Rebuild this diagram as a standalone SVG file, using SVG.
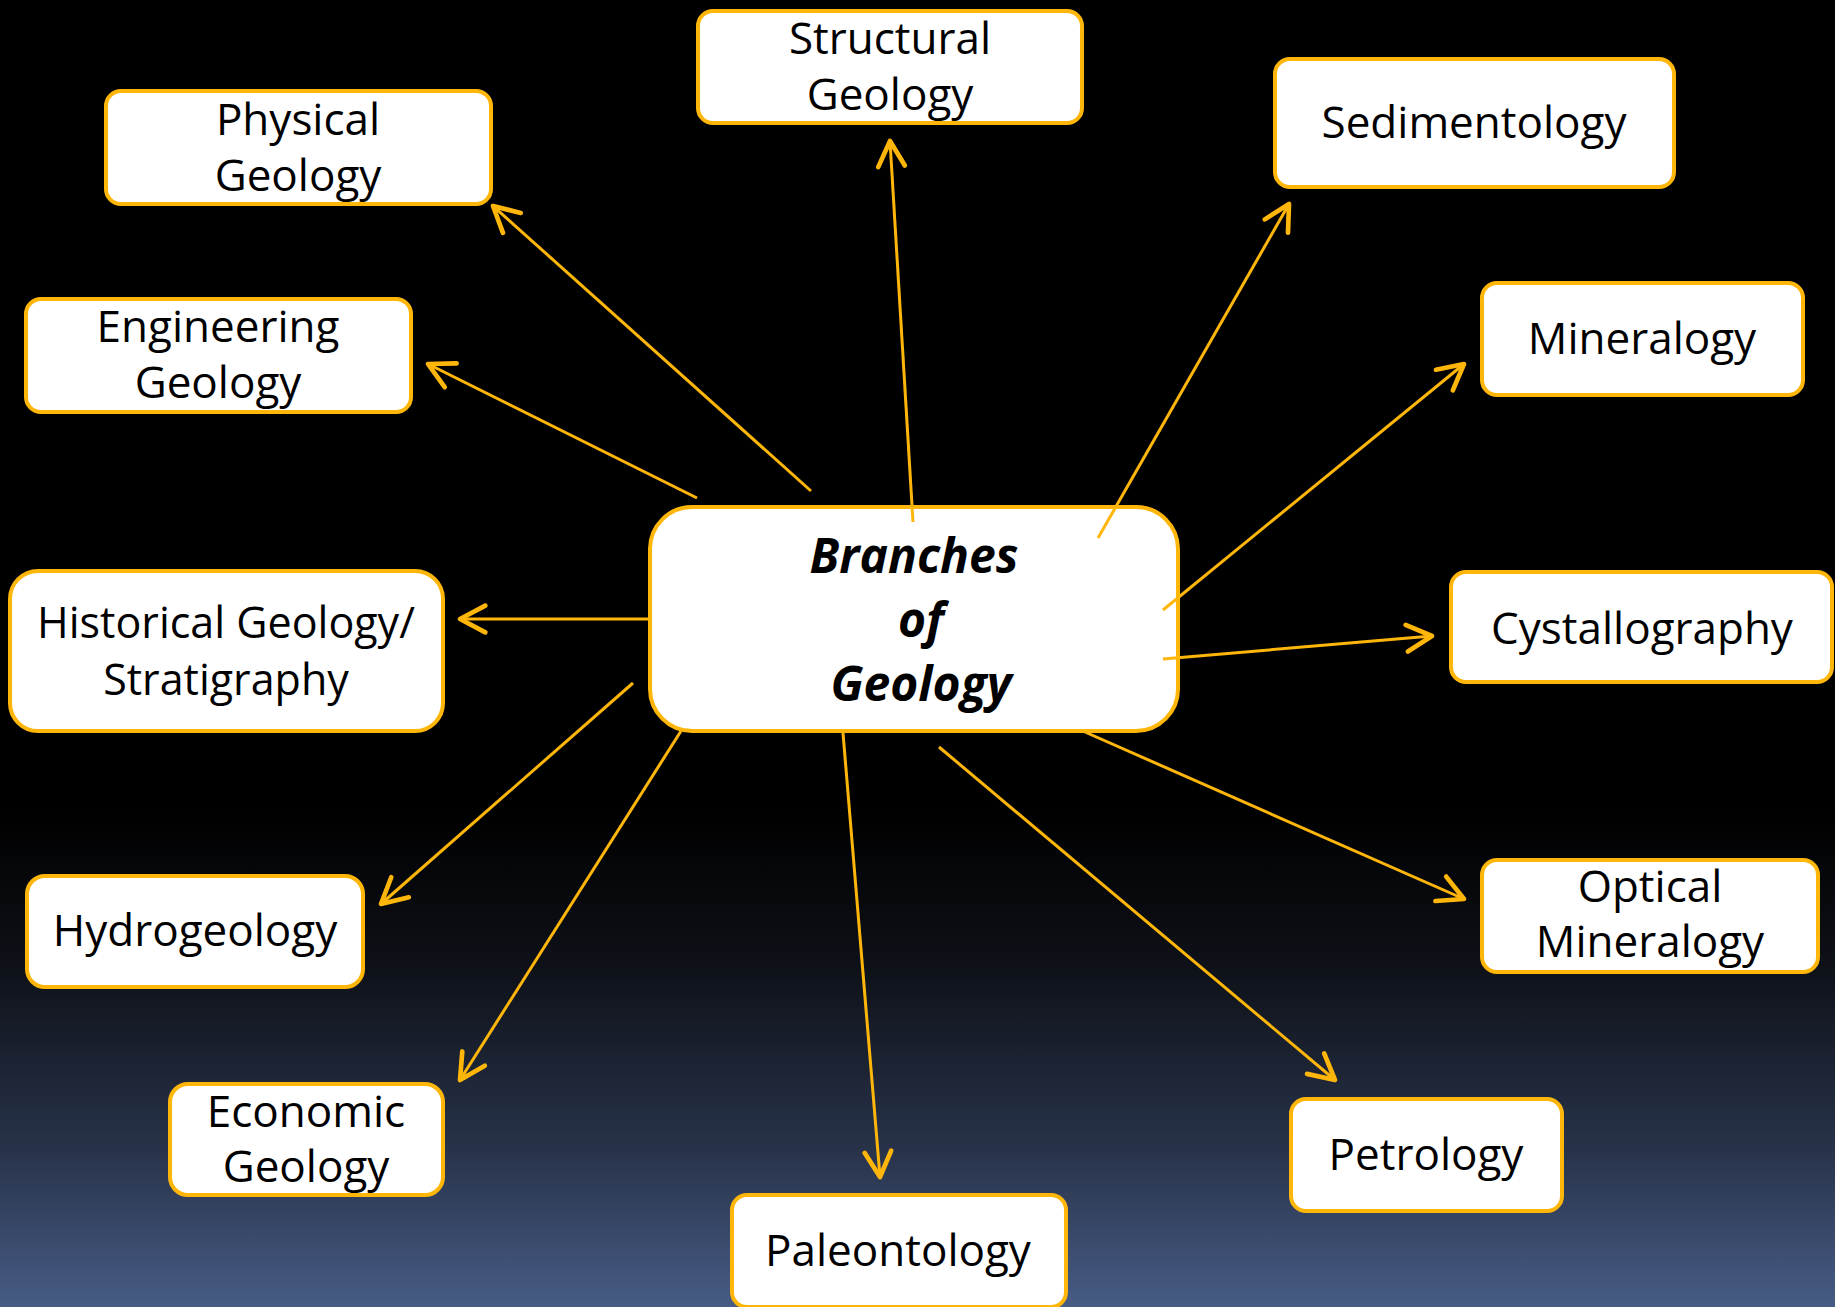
<svg xmlns="http://www.w3.org/2000/svg" width="1835" height="1307" viewBox="0 0 1835 1307">
<defs>
<linearGradient id="bg" x1="0" y1="0" x2="0" y2="1">
<stop offset="0" stop-color="#000000"/>
<stop offset="0.62" stop-color="#000000"/>
<stop offset="0.74" stop-color="#0E1118"/>
<stop offset="0.88" stop-color="#28334A"/>
<stop offset="1" stop-color="#475C85"/>
</linearGradient>
<marker id="ah" markerUnits="userSpaceOnUse" markerWidth="40" markerHeight="40" viewBox="-25 -15 30 30" refX="0" refY="0" orient="auto">
<path d="M -19 -10 L 0 0 L -19 10" fill="none" stroke="#FFB60A" stroke-width="3.5" stroke-linecap="round" stroke-linejoin="round"/>
</marker>
<style>
.box{fill:#FFFFFF;stroke:#FFB60A;stroke-width:4}
.t{font-family:"Open Sans","Noto Sans","DejaVu Sans",sans-serif;font-size:44px;fill:#000000;text-anchor:middle}
.c{font-weight:bold;font-style:italic;font-size:48px}
.ln{stroke:#FFB60A;stroke-width:3;fill:none;marker-end:url(#ah)}
</style>
</defs>
<rect x="0" y="0" width="1835" height="1307" fill="url(#bg)"/>
<g id="center">
<rect class="box" x="650" y="507" width="528" height="224" rx="42"/>
<text class="t c" x="914" y="573">Branches</text>
<text class="t c" x="921" y="637">of</text>
<text class="t c" x="921" y="701">Geology</text>
</g>
<g id="connectors">
<line class="ln" x1="811" y1="491" x2="493" y2="206"/>
<line class="ln" x1="697" y1="498" x2="428" y2="364"/>
<line class="ln" x1="913" y1="522" x2="890" y2="141"/>
<line class="ln" x1="1098" y1="538" x2="1289" y2="204"/>
<line class="ln" x1="1163" y1="610" x2="1464" y2="364"/>
<line class="ln" x1="1163" y1="659" x2="1432" y2="636"/>
<line class="ln" x1="1085" y1="732" x2="1464" y2="899"/>
<line class="ln" x1="939" y1="747" x2="1335" y2="1080"/>
<line class="ln" x1="843" y1="733" x2="880" y2="1177"/>
<line class="ln" x1="681" y1="731" x2="460" y2="1080"/>
<line class="ln" x1="633" y1="683" x2="381" y2="904"/>
<line class="ln" x1="648" y1="619" x2="460" y2="619"/>
</g>
<g id="physical">
<rect class="box" x="106" y="91" width="385" height="113" rx="15"/>
<text class="t" x="298" y="135">Physical</text>
<text class="t" x="298" y="191">Geology</text>
</g>
<g id="engineering">
<rect class="box" x="26" y="299" width="385" height="113" rx="15"/>
<text class="t" x="218" y="342">Engineering</text>
<text class="t" x="218" y="398">Geology</text>
</g>
<g id="structural">
<rect class="box" x="698" y="11" width="384" height="112" rx="15"/>
<text class="t" x="890" y="54">Structural</text>
<text class="t" x="890" y="110">Geology</text>
</g>
<g id="sedimentology">
<rect class="box" x="1275" y="59" width="399" height="128" rx="15"/>
<text class="t" x="1474" y="138">Sedimentology</text>
</g>
<g id="mineralogy">
<rect class="box" x="1482" y="283" width="321" height="112" rx="15"/>
<text class="t" x="1642" y="354">Mineralogy</text>
</g>
<g id="cystallography">
<rect class="box" x="1451" y="572" width="381" height="110" rx="15"/>
<text class="t" x="1642" y="644">Cystallography</text>
</g>
<g id="optical">
<rect class="box" x="1482" y="860" width="336" height="112" rx="15"/>
<text class="t" x="1650" y="902">Optical</text>
<text class="t" x="1650" y="957">Mineralogy</text>
</g>
<g id="petrology">
<rect class="box" x="1291" y="1099" width="271" height="112" rx="15"/>
<text class="t" x="1426" y="1170">Petrology</text>
</g>
<g id="paleontology">
<rect class="box" x="732" y="1195" width="334" height="112" rx="15"/>
<text class="t" x="898" y="1266">Paleontology</text>
</g>
<g id="historical">
<rect class="box" x="10" y="571" width="433" height="160" rx="28"/>
<text class="t" x="226" y="638" style="font-size:43px">Historical Geology/</text>
<text class="t" x="226" y="695" style="font-size:43px">Stratigraphy</text>
</g>
<g id="hydrogeology">
<rect class="box" x="27" y="876" width="336" height="111" rx="18"/>
<text class="t" x="195" y="946">Hydrogeology</text>
</g>
<g id="economic">
<rect class="box" x="170" y="1084" width="273" height="111" rx="18"/>
<text class="t" x="306" y="1127">Economic</text>
<text class="t" x="306" y="1182">Geology</text>
</g>
</svg>
